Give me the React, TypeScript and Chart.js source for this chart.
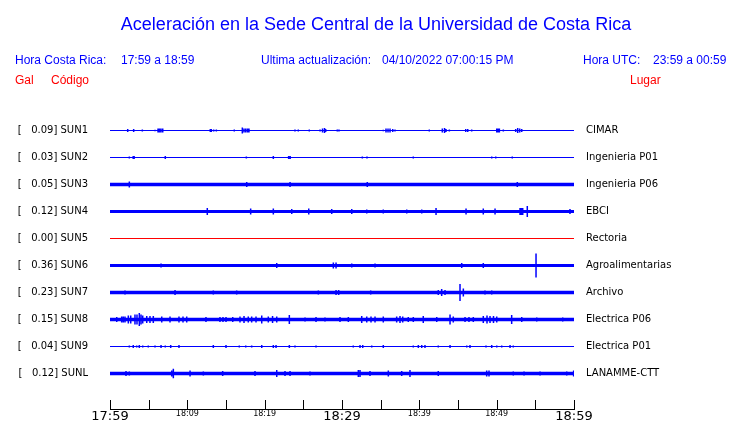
import React, { useEffect, useRef } from "react";
import { Chart, registerables } from "chart.js";

Chart.register(...registerables);

// ---------- text ----------
const TITLE = "Aceleración en la Sede Central de la Universidad de Costa Rica";
const HEADER_LOCAL_LABEL = "Hora Costa Rica:";
const HEADER_LOCAL_RANGE = "17:59 a 18:59";
const HEADER_UPDATE_LABEL = "Ultima actualización:";
const HEADER_UPDATE_VALUE = "04/10/2022 07:00:15 PM";
const HEADER_UTC_LABEL = "Hora UTC:";
const HEADER_UTC_RANGE = "23:59 a 00:59";
const COL_GAL = "Gal";
const COL_CODE = "Código";
const COL_PLACE = "Lugar";

// ---------- stations ----------
const STATIONS = ["SUN1", "SUN2", "SUN3", "SUN4", "SUN5", "SUN6", "SUN7", "SUN8", "SUN9", "SUNL"];
const PEAKS = [0.09, 0.03, 0.05, 0.12, 0.0, 0.36, 0.23, 0.15, 0.04, 0.12];
const PLACES = ["CIMAR", "Ingenieria P01", "Ingenieria P06", "EBCI", "Rectoria", "Agroalimentarias", "Archivo", "Electrica P06", "Electrica P01", "LANAMME-CTT"];

// ---------- time axis (minutes after 17:59) ----------
const TICK_MINUTES = [0, 5, 10, 15, 20, 25, 30, 35, 40, 45, 50, 55, 60];
const LABEL_MINUTES = [0, 10, 20, 30, 40, 50, 60];
const TIME_LABELS = ["17:59", "18:09", "18:19", "18:29", "18:39", "18:49", "18:59"];
const MAJOR_MINUTES = [0, 30, 60];

// ---------- trace envelopes: background noise level and bursts [minute, amplitude] ----------
const NOISE = [0.5, 0.5, 1.75, 1.6, 0.5, 1.5, 1.75, 1.75, 0.5, 1.75];

const EVENTS_SUN1 = [[2.29,1.5],[3.06,1.5],[4.18,1],[5.82,0.7],[6.21,2],[6.4,2],[6.6,2],[6.82,2],[12.97,1.5],[13.1,1.5],[13.41,1],[13.75,1],[16.07,1],[17.11,3],[17.33,2],[17.55,2],[17.78,2],[17.97,2],[23.92,1],[24.35,1],[25.77,1],[27.16,1],[27.48,2],[27.74,2.5],[27.89,1.5],[29.39,1],[29.61,1],[35.34,0.7],[35.69,2],[35.95,2],[36.21,2],[36.56,1.5],[36.85,1],[41.29,1],[42.97,2],[43.26,2.5],[43.45,1.5],[43.88,1],[46.0,1.5],[46.26,1.5],[46.77,1],[50.01,2],[50.18,2],[50.35,2],[50.86,1],[52.46,1.5],[52.72,2.5],[52.98,2],[53.24,1.5]];
const EVENTS_SUN2 = [[2.5,1],[3.0,1.5],[3.12,1.5],[7.15,1.5],[17.63,1],[21.12,1.5],[23.1,1.5],[23.3,1.5],[32.63,1],[33.23,1],[39.22,1],[49.36,1],[49.88,1],[52.02,1]];
const EVENTS_SUN3 = [[2.5,3],[17.68,2.5],[23.28,2.5],[33.27,2.5],[52.67,2.5]];
const EVENTS_SUN4 = [[12.58,3.5],[18.19,3],[21.12,3],[23.5,2.5],[25.7,3],[28.67,2.5],[31.26,2.5],[33.2,2],[35.34,2],[38.37,2],[40.31,2],[42.16,3.5],[46.04,3],[48.27,3],[49.79,3],[53.02,3.5],[53.2,3.5],[53.37,3.5],[53.96,5.5],[59.48,2.5]];
const EVENTS_SUN5: number[][] = [];
const EVENTS_SUN6 = [[6.6,2],[21.56,2.5],[28.88,3],[29.23,3],[31.26,2],[34.27,2],[45.48,2.5],[48.27,2.5],[55.09,12]];
const EVENTS_SUN7 = [[1.94,2],[8.41,2.5],[13.36,2],[16.38,2],[26.94,2],[29.23,2.5],[29.57,2.5],[33.71,2],[42.45,2.5],[42.89,3.5],[43.32,2.5],[45.26,8.5],[45.69,4],[48.49,2],[49.36,2],[58.1,1.5]];
const EVENTS_SUN8 = [[0.87,2.5],[1.51,3],[1.72,3],[1.94,3],[2.37,4],[2.68,4],[3.23,5],[3.49,5],[3.79,6.5],[4.01,5],[4.23,4],[4.75,3.5],[5.17,3.5],[5.6,3.5],[6.69,3],[7.76,3],[8.92,3],[9.44,3],[9.92,3],[12.41,2.5],[14.22,2.5],[14.61,2.5],[15.0,2.5],[15.87,2.5],[16.81,3],[17.33,3.5],[17.88,3],[18.32,3],[18.88,3],[19.62,4],[20.47,3],[21.02,3.5],[21.56,3],[23.19,4.5],[25.22,2],[26.64,2.5],[27.8,2],[29.74,2.5],[30.82,2.5],[32.55,3.5],[33.2,3],[33.75,3],[34.27,3],[35.34,3],[37.07,3],[37.5,3.5],[37.85,3],[38.57,2.5],[39.22,2.5],[40.51,3.5],[42.25,2.5],[43.97,5],[44.39,3],[45.91,2.5],[46.42,2.5],[46.98,2.5],[48.27,3.5],[48.75,4],[49.14,3.5],[49.59,3.5],[50.01,3],[51.94,4.5],[53.24,2.5],[55.18,2],[58.54,2]];
const EVENTS_SUN9 = [[2.5,1],[3.01,1.5],[3.45,1],[3.79,1.5],[4.23,1],[4.95,1],[5.82,1],[6.6,1.5],[7.15,1],[7.85,1.5],[8.92,1.5],[13.36,1.5],[15.0,1.5],[16.72,1],[17.55,1],[18.32,1],[19.62,1.5],[21.12,1.5],[21.47,1.5],[23.19,1.5],[23.92,1],[26.64,1],[31.46,1],[32.33,1.5],[32.68,1.5],[33.84,1],[35.34,1.5],[39.22,1],[39.87,1.5],[40.31,1.5],[40.73,1.5],[42.45,1],[43.97,1.5],[46.13,1],[46.55,1.5],[48.62,1],[49.36,1.5],[50.01,1],[50.65,1],[51.73,1.5],[52.15,1]];
const EVENTS_SUNL = [[2.07,2.5],[2.5,2],[7.98,3],[8.19,4.7],[10.35,3],[12.07,2],[14.57,2.5],[18.75,2.5],[21.56,3.5],[22.63,2.5],[23.28,2.5],[25.86,2],[32.11,3.5],[32.33,3.5],[33.62,2.5],[35.99,3],[37.72,2.5],[38.79,3.5],[42.45,2.5],[48.71,3],[49.01,3],[52.15,2],[53.54,2],[55.61,2],[59.06,2],[59.95,3]];

const EVENTS = [EVENTS_SUN1, EVENTS_SUN2, EVENTS_SUN3, EVENTS_SUN4, EVENTS_SUN5, EVENTS_SUN6, EVENTS_SUN7, EVENTS_SUN8, EVENTS_SUN9, EVENTS_SUNL];

// ---------- styling ----------
const BLUE = "rgb(0,0,255)";
const RED = "rgb(255,0,0)";
const GAIN = 1 / 27; // amplitude unit -> fraction of row spacing
const Y_MIN = -18.5 / 27;
const Y_MAX = Y_MIN + 11;

const headerPlugin = {
  id: "header",
  afterDraw(chart: any) {
    const ctx = chart.ctx;
    ctx.save();
    ctx.textBaseline = "alphabetic";
    ctx.fillStyle = BLUE;
    ctx.font = '18px "Liberation Sans", Arial, sans-serif';
    ctx.textAlign = "center";
    ctx.fillText(TITLE, 376, 30);
    ctx.textAlign = "left";
    ctx.font = '12px "Liberation Sans", Arial, sans-serif';
    ctx.fillText(HEADER_LOCAL_LABEL, 15, 64);
    ctx.fillText(HEADER_LOCAL_RANGE, 121, 64);
    ctx.fillText(HEADER_UPDATE_LABEL, 261, 64);
    ctx.fillText(HEADER_UPDATE_VALUE, 382, 64);
    ctx.fillText(HEADER_UTC_LABEL, 583, 64);
    ctx.fillText(HEADER_UTC_RANGE, 653, 64);
    ctx.fillStyle = RED;
    ctx.fillText(COL_GAL, 15, 84);
    ctx.fillText(COL_CODE, 51, 84);
    ctx.fillText(COL_PLACE, 630, 84);

    // upward tick marks on the time axis
    const xs = chart.scales.x;
    const bottom = chart.chartArea.bottom;
    ctx.strokeStyle = "#000";
    ctx.lineWidth = 1;
    xs.ticks.forEach((t: any) => {
      const px = Math.round(xs.getPixelForValue(t.value)) + 0.5;
      ctx.beginPath();
      ctx.moveTo(px, bottom);
      ctx.lineTo(px, bottom - 9);
      ctx.stroke();
    });
    ctx.restore();
  },
};

export default function App() {
  const ref = useRef<HTMLCanvasElement>(null);

  useEffect(() => {
    if (!ref.current) return;
    const datasets: any[] = [];
    STATIONS.forEach((_, i) => {
      const color = PEAKS[i] === 0 ? RED : BLUE;
      const n = NOISE[i] * GAIN;
      datasets.push({
        type: "line",
        data: [
          { x: 0, y: i - n },
          { x: 60, y: i - n },
        ],
        borderWidth: 0,
        borderColor: "transparent",
        backgroundColor: color,
        fill: { value: i + n },
        pointRadius: 0,
        yAxisID: "y",
      });
      const pts: any[] = [];
      EVENTS[i].forEach(([m, a]) => {
        pts.push({ x: m, y: i - a * GAIN });
        pts.push({ x: m, y: i + a * GAIN });
        pts.push({ x: m, y: null });
      });
      datasets.push({
        type: "line",
        data: pts,
        borderColor: color,
        borderWidth: 1.5,
        pointRadius: 0,
        spanGaps: false,
        fill: false,
        tension: 0,
        yAxisID: "y",
      });
    });

    const yCommon = {
      type: "linear",
      reverse: true,
      min: Y_MIN,
      max: Y_MAX,
      grid: { display: false, drawTicks: false },
      border: { display: false },
      afterBuildTicks: (s: any) => {
        s.ticks = STATIONS.map((_, i) => ({ value: i }));
      },
    };

    const chart = new Chart(ref.current, {
      type: "line",
      data: { datasets },
      options: {
        animation: false,
        responsive: false,
        maintainAspectRatio: false,
        devicePixelRatio: 1,
        layout: { padding: { top: 112, left: 0, right: 0, bottom: 0 } },
        plugins: {
          legend: { display: false },
          title: { display: false },
          tooltip: { enabled: false },
        },
        scales: {
          x: {
            type: "linear",
            min: 0,
            max: 60,
            grid: { display: false, drawTicks: false },
            border: { display: true, color: "#000", width: 1 },
            afterBuildTicks: (s: any) => {
              s.ticks = TICK_MINUTES.map((v) => ({ value: v }));
            },
            afterFit: (s: any) => {
              s.height = 14;
              s.paddingLeft = 0;
              s.paddingRight = 0;
            },
            ticks: {
              autoSkip: false,
              maxRotation: 0,
              minRotation: 0,
              padding: 0,
              color: "#000",
              font: (c: any) => ({
                family: "DejaVu Sans",
                size: c.tick && MAJOR_MINUTES.includes(c.tick.value) ? 13 : 8,
              }),
              callback: (v: any) => {
                const k = LABEL_MINUTES.indexOf(Number(v));
                return k >= 0 ? TIME_LABELS[k] : "";
              },
            },
          },
          y: {
            ...yCommon,
            position: "left",
            afterFit: (s: any) => {
              s.width = 110;
              s.paddingTop = 0;
              s.paddingBottom = 0;
            },
            ticks: {
              padding: 22,
              color: "#000",
              font: { family: "DejaVu Sans", size: 10 },
              callback: (v: any) => {
                const i = Number(v);
                return "[" + PEAKS[i].toFixed(2).padStart(7, " ") + "] " + STATIONS[i];
              },
            },
          },
          y2: {
            ...yCommon,
            position: "right",
            afterFit: (s: any) => {
              s.width = 166;
              s.paddingTop = 0;
              s.paddingBottom = 0;
            },
            ticks: {
              padding: 12,
              color: "#000",
              font: { family: "DejaVu Sans", size: 10 },
              callback: (v: any) => PLACES[Number(v)],
            },
          },
        } as any,
      },
      plugins: [headerPlugin],
    } as any);
    return () => chart.destroy();
  }, []);

  return (
    <div style={{ position: "fixed", left: 0, top: 0, width: 740, height: 423, background: "#fff" }}>
      <canvas ref={ref} width={740} height={423} style={{ display: "block", width: 740, height: 423 }} />
    </div>
  );
}
